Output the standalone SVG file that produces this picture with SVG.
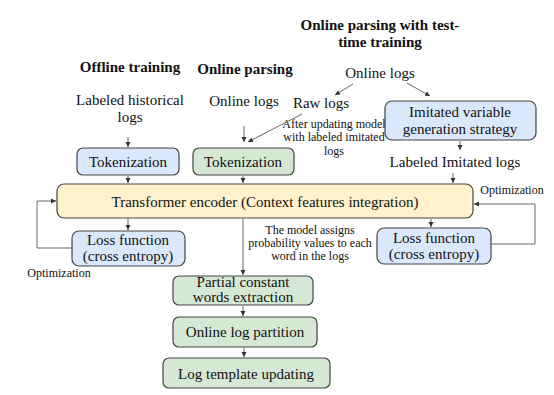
<svg xmlns="http://www.w3.org/2000/svg" width="554" height="395" viewBox="0 0 554 395">
<defs>
<marker id="ah" markerWidth="6" markerHeight="6" refX="5" refY="3" orient="auto" markerUnits="userSpaceOnUse">
<path d="M0,0.5 L5,3 L0,5.5 Z" fill="#333"/>
</marker>
<style>
text{font-family:"Liberation Serif","Times New Roman",serif;fill:#111;text-anchor:middle}
.t{font-size:15px}
.b{font-size:15px;font-weight:bold}
.s{font-size:12px}
.box{stroke:#444;stroke-width:1.2}
.blue{fill:#dae8fc}
.green{fill:#d5e8d4}
.yellow{fill:#fff2cc}
.c{fill:none;stroke:#666;stroke-width:1;marker-end:url(#ah)}
.ln{fill:none;stroke:#666;stroke-width:1}
</style>
</defs>
<rect width="554" height="395" fill="#fff"/>

<g id="titles">
<text class="b" x="130" y="72">Offline training</text>
<text class="b" x="245" y="74">Online parsing</text>
<text class="b" x="380" y="30">Online parsing with test-</text>
<text class="b" x="380" y="47">time training</text>
</g>

<g id="labels">
<text class="t" x="130" y="105">Labeled historical</text>
<text class="t" x="130" y="122">logs</text>
<text class="t" x="244" y="106">Online logs</text>
<text class="t" x="380" y="78">Online logs</text>
<text class="t" x="321" y="108">Raw logs</text>
<text class="s" x="334" y="128">After updating model</text>
<text class="s" x="334" y="141">with labeled imitated</text>
<text class="s" x="334" y="155">logs</text>
<text class="t" x="455" y="167">Labeled Imitated logs</text>
<text class="s" x="512" y="194">Optimization</text>
<text class="s" x="59" y="277">Optimization</text>
<text class="s" x="310" y="234">The model assigns</text>
<text class="s" x="310" y="247">probability values to each</text>
<text class="s" x="310" y="260">word in the logs</text>
</g>

<g id="tok1">
<rect class="box blue" x="77" y="148" width="102" height="27" rx="6"/>
<text class="t" x="128" y="167">Tokenization</text>
</g>
<g id="tok2">
<rect class="box green" x="193" y="148" width="101" height="27" rx="6"/>
<text class="t" x="243" y="167">Tokenization</text>
</g>
<g id="imitated">
<rect class="box blue" x="385" y="101" width="151" height="39" rx="7"/>
<text class="t" x="460" y="117">Imitated variable</text>
<text class="t" x="460" y="134">generation strategy</text>
</g>
<g id="transformer">
<rect class="box yellow" x="57" y="184" width="416" height="34" rx="7"/>
<text class="t" x="265" y="207">Transformer encoder (Context features integration)</text>
</g>
<g id="loss1">
<rect class="box blue" x="72" y="231" width="113" height="35" rx="7"/>
<text class="t" x="128" y="245">Loss function</text>
<text class="t" x="128" y="261">(cross entropy)</text>
</g>
<g id="loss2">
<rect class="box blue" x="377" y="228" width="114" height="36" rx="7"/>
<text class="t" x="434" y="243">Loss function</text>
<text class="t" x="434" y="259">(cross entropy)</text>
</g>
<g id="partial">
<rect class="box green" x="173" y="276" width="140" height="29" rx="6"/>
<text class="t" x="243" y="287">Partial constant</text>
<text class="t" x="243" y="302">words extraction</text>
</g>
<g id="partition">
<rect class="box green" x="173" y="317" width="144" height="30" rx="6"/>
<text class="t" x="245" y="337">Online log partition</text>
</g>
<g id="template">
<rect class="box green" x="163" y="358" width="167" height="30" rx="6"/>
<text class="t" x="246" y="379">Log template updating</text>
</g>

<g id="connectors">
<line class="c" x1="128" y1="137" x2="128" y2="147"/>
<line class="c" x1="244" y1="126" x2="244" y2="142"/>
<line class="c" x1="302" y1="114" x2="248" y2="142"/>
<line class="c" x1="353" y1="84" x2="335" y2="95"/>
<line class="c" x1="407" y1="83" x2="430" y2="96"/>
<line class="c" x1="460" y1="141" x2="460" y2="150"/>
<line class="c" x1="453" y1="173" x2="453" y2="183"/>
<line class="c" x1="128" y1="176" x2="128" y2="183"/>
<line class="c" x1="243" y1="176" x2="243" y2="183"/>
<line class="c" x1="128" y1="219" x2="128" y2="230"/>
<line class="c" x1="431" y1="219" x2="431" y2="227"/>
<polyline class="c" points="72,248 37,248 37,201 56,201"/>
<polyline class="c" points="491,244 535,244 535,204 474,204"/>
<line class="c" x1="243" y1="219" x2="243" y2="275"/>
<line class="c" x1="243" y1="306" x2="243" y2="316"/>
<line class="c" x1="244" y1="348" x2="244" y2="357"/>
</g>
</svg>
